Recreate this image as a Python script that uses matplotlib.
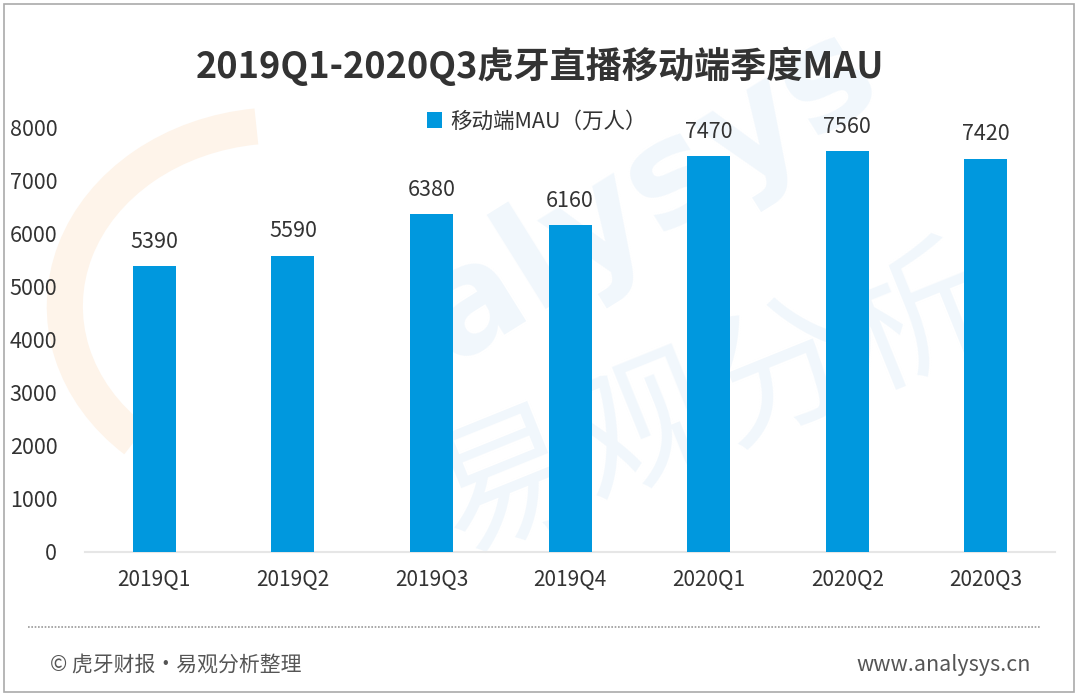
import matplotlib.pyplot as plt
from matplotlib.patches import Rectangle, Arc
from matplotlib.lines import Line2D

plt.rcParams['font.family'] = ['Noto Sans CJK SC', 'DejaVu Sans']

quarters = ["2019Q1", "2019Q2", "2019Q3", "2019Q4", "2020Q1", "2020Q2", "2020Q3"]
mau = [5390, 5590, 6380, 6160, 7470, 7560, 7420]
y_ticks = [0, 1000, 2000, 3000, 4000, 5000, 6000, 7000, 8000]

bar_color = "#0098DE"
text_color = "#333333"

fig = plt.figure(figsize=(10.8, 6.96), dpi=100)

# faint watermark behind the chart
fig.text(0.60, 0.72, "alysys", fontsize=105, color="#F1F7FC", rotation=32,
         ha="center", va="center", fontweight="bold", zorder=0, family="DejaVu Sans")
fig.text(0.66, 0.42, "易观分析", fontsize=105, color="#F1F7FC", rotation=22,
         ha="center", va="center", zorder=0)
fig.add_artist(Arc((0.26, 0.56), 0.40, 0.52, angle=0, theta1=95, theta2=235,
                   transform=fig.transFigure, color="#FEF4EA", lw=26, zorder=0))

ax = fig.add_axes([0.0787, 0.2069, 0.8983, 0.6093])
ax.set_zorder(2)
ax.patch.set_alpha(0)
x = range(len(quarters))
ax.bar(x, mau, width=0.31, color=bar_color, label="移动端MAU（万人）", zorder=3)
for xi, v in zip(x, mau):
    ax.text(xi, v + 250, str(v), ha="center", va="bottom", fontsize=15.5, color=text_color)

ax.set_xlim(-0.5, 6.5)
ax.set_ylim(0, 8000)
ax.set_yticks(y_ticks)
ax.set_xticks(list(x))
ax.set_xticklabels(quarters)
ax.tick_params(axis="both", length=0, labelsize=15, colors=text_color)
ax.tick_params(axis="y", labelsize=15.5, pad=20)
ax.tick_params(axis="x", pad=12)
for s in ["top", "right", "left"]:
    ax.spines[s].set_visible(False)
ax.spines["bottom"].set_color("#E6E6E6")
ax.spines["bottom"].set_linewidth(1.5)

ax.legend(loc="center", bbox_to_anchor=(0.466, 1.015), frameon=False,
          fontsize=15.5, handlelength=0.7, handleheight=0.7, handletextpad=0.4,
          labelcolor=text_color)

fig.text(0.5, 0.905, "2019Q1-2020Q3虎牙直播移动端季度MAU", ha="center", va="center",
         fontsize=26, fontweight="bold", color=text_color)

line_y = 1 - 627 / 696
fig.add_artist(Line2D([0.026, 0.963], [line_y, line_y], transform=fig.transFigure,
                      color="#999999", lw=1.2, linestyle=(0, (1, 1))))

fig.text(0.046, 1 - 665 / 696, "© 虎牙财报·易观分析整理", ha="left", va="center",
         fontsize=15, color="#555555")
fig.text(0.954, 1 - 665 / 696, "www.analysys.cn", ha="right", va="center",
         fontsize=15.5, color="#555555")

fig.add_artist(Rectangle((0.004, 0.006), 0.99, 0.988, transform=fig.transFigure,
                         fill=False, edgecolor="#AAAAAA", lw=1.2))

fig.savefig("out.png", dpi=100)
